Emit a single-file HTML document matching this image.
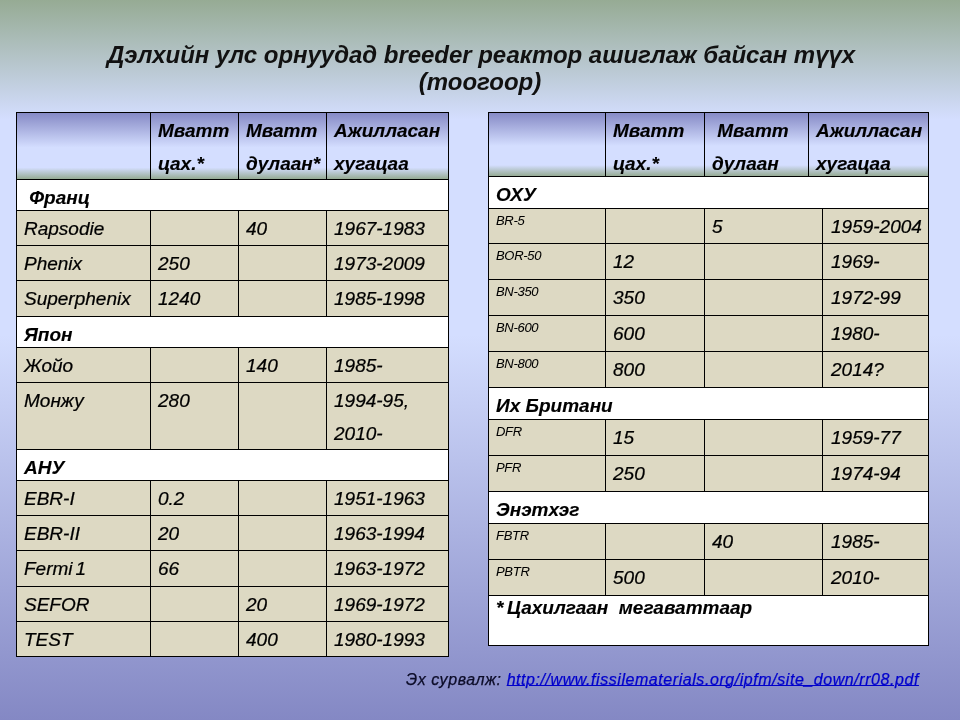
<!DOCTYPE html>
<html lang="mn"><head><meta charset="utf-8"><title>Breeder реактор</title>
<style>
html,body{margin:0;padding:0}
body{width:960px;height:720px;overflow:hidden;position:relative;font-family:"Liberation Sans", sans-serif;color:#000;
background:linear-gradient(to bottom,#96AB94 0%,#D4DEFF 16.6%,#D4DEFF 46.5%,#8488C4 100%);}
div{position:absolute;box-sizing:border-box}
#stage{left:0;top:0;width:960px;height:720px;will-change:transform}
.ln{background:#000}
.t{white-space:nowrap;font-style:italic;-webkit-text-stroke:0.22px #000}
.bi{font-weight:bold;-webkit-text-stroke:0.12px #000}
.title{left:0;width:960px;text-align:center;font-weight:bold;font-style:italic;font-size:24px;line-height:27px;color:#111;top:41.2px;white-space:nowrap}
.src{font-weight:normal;font-style:italic;font-size:16px;line-height:19px;white-space:nowrap;left:406px;top:669.7px;color:#0c0c28;letter-spacing:0.56px;-webkit-text-stroke:0.25px currentColor}
.src a{color:#0000cc;text-decoration:underline;text-decoration-thickness:1px;text-underline-offset:0.3px}
</style></head><body>
<div id="stage">
<div class="title"><span style="letter-spacing:-0.03px;padding-left:2px">Дэлхийн улс орнуудад breeder реактор ашиглаж байсан түүх</span><br>(тоогоор)</div>
<div style="left:16px;top:112px;width:432px;height:67px;background:linear-gradient(to bottom,#8488C4 0%,#D4DEFF 53%,#D4DEFF 83%,#96AB94 100%);"></div>
<div style="left:16px;top:179px;width:432px;height:31px;background:#fff;"></div>
<div style="left:16px;top:210px;width:432px;height:35px;background:#DDD9C3;"></div>
<div style="left:16px;top:245px;width:432px;height:35px;background:#DDD9C3;"></div>
<div style="left:16px;top:280px;width:432px;height:36px;background:#DDD9C3;"></div>
<div style="left:16px;top:316px;width:432px;height:31px;background:#fff;"></div>
<div style="left:16px;top:347px;width:432px;height:35px;background:#DDD9C3;"></div>
<div style="left:16px;top:382px;width:432px;height:67px;background:#DDD9C3;"></div>
<div style="left:16px;top:449px;width:432px;height:31px;background:#fff;"></div>
<div style="left:16px;top:480px;width:432px;height:35px;background:#DDD9C3;"></div>
<div style="left:16px;top:515px;width:432px;height:35px;background:#DDD9C3;"></div>
<div style="left:16px;top:550px;width:432px;height:36px;background:#DDD9C3;"></div>
<div style="left:16px;top:586px;width:432px;height:35px;background:#DDD9C3;"></div>
<div style="left:16px;top:621px;width:432px;height:35px;background:#DDD9C3;"></div>
<div class="ln" style="left:16px;top:112px;width:433px;height:1px"></div>
<div class="ln" style="left:16px;top:179px;width:433px;height:1px"></div>
<div class="ln" style="left:16px;top:210px;width:433px;height:1px"></div>
<div class="ln" style="left:16px;top:245px;width:433px;height:1px"></div>
<div class="ln" style="left:16px;top:280px;width:433px;height:1px"></div>
<div class="ln" style="left:16px;top:316px;width:433px;height:1px"></div>
<div class="ln" style="left:16px;top:347px;width:433px;height:1px"></div>
<div class="ln" style="left:16px;top:382px;width:433px;height:1px"></div>
<div class="ln" style="left:16px;top:449px;width:433px;height:1px"></div>
<div class="ln" style="left:16px;top:480px;width:433px;height:1px"></div>
<div class="ln" style="left:16px;top:515px;width:433px;height:1px"></div>
<div class="ln" style="left:16px;top:550px;width:433px;height:1px"></div>
<div class="ln" style="left:16px;top:586px;width:433px;height:1px"></div>
<div class="ln" style="left:16px;top:621px;width:433px;height:1px"></div>
<div class="ln" style="left:16px;top:656px;width:433px;height:1px"></div>
<div class="ln" style="left:16px;top:112px;width:1px;height:545px"></div>
<div class="ln" style="left:448px;top:112px;width:1px;height:545px"></div>
<div class="ln" style="left:150px;top:112px;width:1px;height:67px"></div>
<div class="ln" style="left:238px;top:112px;width:1px;height:67px"></div>
<div class="ln" style="left:326px;top:112px;width:1px;height:67px"></div>
<div class="ln" style="left:150px;top:210px;width:1px;height:35px"></div>
<div class="ln" style="left:238px;top:210px;width:1px;height:35px"></div>
<div class="ln" style="left:326px;top:210px;width:1px;height:35px"></div>
<div class="ln" style="left:150px;top:245px;width:1px;height:35px"></div>
<div class="ln" style="left:238px;top:245px;width:1px;height:35px"></div>
<div class="ln" style="left:326px;top:245px;width:1px;height:35px"></div>
<div class="ln" style="left:150px;top:280px;width:1px;height:36px"></div>
<div class="ln" style="left:238px;top:280px;width:1px;height:36px"></div>
<div class="ln" style="left:326px;top:280px;width:1px;height:36px"></div>
<div class="ln" style="left:150px;top:347px;width:1px;height:35px"></div>
<div class="ln" style="left:238px;top:347px;width:1px;height:35px"></div>
<div class="ln" style="left:326px;top:347px;width:1px;height:35px"></div>
<div class="ln" style="left:150px;top:382px;width:1px;height:67px"></div>
<div class="ln" style="left:238px;top:382px;width:1px;height:67px"></div>
<div class="ln" style="left:326px;top:382px;width:1px;height:67px"></div>
<div class="ln" style="left:150px;top:480px;width:1px;height:35px"></div>
<div class="ln" style="left:238px;top:480px;width:1px;height:35px"></div>
<div class="ln" style="left:326px;top:480px;width:1px;height:35px"></div>
<div class="ln" style="left:150px;top:515px;width:1px;height:35px"></div>
<div class="ln" style="left:238px;top:515px;width:1px;height:35px"></div>
<div class="ln" style="left:326px;top:515px;width:1px;height:35px"></div>
<div class="ln" style="left:150px;top:550px;width:1px;height:36px"></div>
<div class="ln" style="left:238px;top:550px;width:1px;height:36px"></div>
<div class="ln" style="left:326px;top:550px;width:1px;height:36px"></div>
<div class="ln" style="left:150px;top:586px;width:1px;height:35px"></div>
<div class="ln" style="left:238px;top:586px;width:1px;height:35px"></div>
<div class="ln" style="left:326px;top:586px;width:1px;height:35px"></div>
<div class="ln" style="left:150px;top:621px;width:1px;height:35px"></div>
<div class="ln" style="left:238px;top:621px;width:1px;height:35px"></div>
<div class="ln" style="left:326px;top:621px;width:1px;height:35px"></div>
<div class="t bi" style="left:158px;top:118.92px;font-size:19px;line-height:23px;">Мватт</div>
<div class="t bi" style="left:158px;top:151.92px;font-size:19px;line-height:23px;">цах.*</div>
<div class="t bi" style="left:246px;top:118.92px;font-size:19px;line-height:23px;">Мватт</div>
<div class="t bi" style="left:246px;top:151.92px;font-size:19px;line-height:23px;">дулаан*</div>
<div class="t bi" style="left:334px;top:118.92px;font-size:19px;line-height:23px;">Ажилласан</div>
<div class="t bi" style="left:334px;top:151.92px;font-size:19px;line-height:23px;">хугацаа</div>
<div class="t bi" style="left:24px;top:185.52px;font-size:19px;line-height:23px;">&nbsp;Франц</div>
<div class="t i" style="left:24px;top:216.62px;font-size:19px;line-height:23px;">Rapsodie</div>
<div class="t i" style="left:246px;top:216.62px;font-size:19px;line-height:23px;">40</div>
<div class="t i" style="left:334px;top:216.62px;font-size:19px;line-height:23px;">1967-1983</div>
<div class="t i" style="left:24px;top:251.62px;font-size:19px;line-height:23px;">Phenix</div>
<div class="t i" style="left:158px;top:251.62px;font-size:19px;line-height:23px;">250</div>
<div class="t i" style="left:334px;top:251.62px;font-size:19px;line-height:23px;">1973-2009</div>
<div class="t i" style="left:24px;top:286.62px;font-size:19px;line-height:23px;">Superphenix</div>
<div class="t i" style="left:158px;top:286.62px;font-size:19px;line-height:23px;">1240</div>
<div class="t i" style="left:334px;top:286.62px;font-size:19px;line-height:23px;">1985-1998</div>
<div class="t bi" style="left:24px;top:322.52px;font-size:19px;line-height:23px;">Япон</div>
<div class="t i" style="left:24px;top:353.62px;font-size:19px;line-height:23px;">Жойо</div>
<div class="t i" style="left:246px;top:353.62px;font-size:19px;line-height:23px;">140</div>
<div class="t i" style="left:334px;top:353.62px;font-size:19px;line-height:23px;">1985-</div>
<div class="t i" style="left:24px;top:388.62px;font-size:19px;line-height:23px;">Монжу</div>
<div class="t i" style="left:158px;top:388.62px;font-size:19px;line-height:23px;">280</div>
<div class="t i" style="left:334px;top:388.62px;font-size:19px;line-height:23px;">1994-95,</div>
<div class="t i" style="left:334px;top:422.12px;font-size:19px;line-height:23px;">2010-</div>
<div class="t bi" style="left:24px;top:455.52px;font-size:19px;line-height:23px;">АНУ</div>
<div class="t i" style="left:24px;top:486.62px;font-size:19px;line-height:23px;">EBR-I</div>
<div class="t i" style="left:158px;top:486.62px;font-size:19px;line-height:23px;">0.2</div>
<div class="t i" style="left:334px;top:486.62px;font-size:19px;line-height:23px;">1951-1963</div>
<div class="t i" style="left:24px;top:521.62px;font-size:19px;line-height:23px;">EBR-II</div>
<div class="t i" style="left:158px;top:521.62px;font-size:19px;line-height:23px;">20</div>
<div class="t i" style="left:334px;top:521.62px;font-size:19px;line-height:23px;">1963-1994</div>
<div class="t i" style="left:24px;top:556.62px;font-size:19px;line-height:23px;">Fermi<span style="letter-spacing:-2.3px"> </span>1</div>
<div class="t i" style="left:158px;top:556.62px;font-size:19px;line-height:23px;">66</div>
<div class="t i" style="left:334px;top:556.62px;font-size:19px;line-height:23px;">1963-1972</div>
<div class="t i" style="left:24px;top:592.62px;font-size:19px;line-height:23px;">SEFOR</div>
<div class="t i" style="left:246px;top:592.62px;font-size:19px;line-height:23px;">20</div>
<div class="t i" style="left:334px;top:592.62px;font-size:19px;line-height:23px;">1969-1972</div>
<div class="t i" style="left:24px;top:627.62px;font-size:19px;line-height:23px;">TEST</div>
<div class="t i" style="left:246px;top:627.62px;font-size:19px;line-height:23px;">400</div>
<div class="t i" style="left:334px;top:627.62px;font-size:19px;line-height:23px;">1980-1993</div>
<div style="left:488px;top:112px;width:440px;height:64px;background:linear-gradient(to bottom,#8488C4 0%,#D4DEFF 53%,#D4DEFF 83%,#96AB94 100%);"></div>
<div style="left:488px;top:176px;width:440px;height:32px;background:#fff;"></div>
<div style="left:488px;top:208px;width:440px;height:35px;background:#DDD9C3;"></div>
<div style="left:488px;top:243px;width:440px;height:36px;background:#DDD9C3;"></div>
<div style="left:488px;top:279px;width:440px;height:36px;background:#DDD9C3;"></div>
<div style="left:488px;top:315px;width:440px;height:36px;background:#DDD9C3;"></div>
<div style="left:488px;top:351px;width:440px;height:36px;background:#DDD9C3;"></div>
<div style="left:488px;top:387px;width:440px;height:32px;background:#fff;"></div>
<div style="left:488px;top:419px;width:440px;height:36px;background:#DDD9C3;"></div>
<div style="left:488px;top:455px;width:440px;height:36px;background:#DDD9C3;"></div>
<div style="left:488px;top:491px;width:440px;height:32px;background:#fff;"></div>
<div style="left:488px;top:523px;width:440px;height:36px;background:#DDD9C3;"></div>
<div style="left:488px;top:559px;width:440px;height:36px;background:#DDD9C3;"></div>
<div style="left:488px;top:595px;width:440px;height:50px;background:#fff;"></div>
<div class="ln" style="left:488px;top:112px;width:441px;height:1px"></div>
<div class="ln" style="left:488px;top:176px;width:441px;height:1px"></div>
<div class="ln" style="left:488px;top:208px;width:441px;height:1px"></div>
<div class="ln" style="left:488px;top:243px;width:441px;height:1px"></div>
<div class="ln" style="left:488px;top:279px;width:441px;height:1px"></div>
<div class="ln" style="left:488px;top:315px;width:441px;height:1px"></div>
<div class="ln" style="left:488px;top:351px;width:441px;height:1px"></div>
<div class="ln" style="left:488px;top:387px;width:441px;height:1px"></div>
<div class="ln" style="left:488px;top:419px;width:441px;height:1px"></div>
<div class="ln" style="left:488px;top:455px;width:441px;height:1px"></div>
<div class="ln" style="left:488px;top:491px;width:441px;height:1px"></div>
<div class="ln" style="left:488px;top:523px;width:441px;height:1px"></div>
<div class="ln" style="left:488px;top:559px;width:441px;height:1px"></div>
<div class="ln" style="left:488px;top:595px;width:441px;height:1px"></div>
<div class="ln" style="left:488px;top:645px;width:441px;height:1px"></div>
<div class="ln" style="left:488px;top:112px;width:1px;height:534px"></div>
<div class="ln" style="left:928px;top:112px;width:1px;height:534px"></div>
<div class="ln" style="left:605px;top:112px;width:1px;height:64px"></div>
<div class="ln" style="left:704px;top:112px;width:1px;height:64px"></div>
<div class="ln" style="left:808px;top:112px;width:1px;height:64px"></div>
<div class="ln" style="left:605px;top:208px;width:1px;height:35px"></div>
<div class="ln" style="left:704px;top:208px;width:1px;height:35px"></div>
<div class="ln" style="left:822px;top:208px;width:1px;height:35px"></div>
<div class="ln" style="left:605px;top:243px;width:1px;height:36px"></div>
<div class="ln" style="left:704px;top:243px;width:1px;height:36px"></div>
<div class="ln" style="left:822px;top:243px;width:1px;height:36px"></div>
<div class="ln" style="left:605px;top:279px;width:1px;height:36px"></div>
<div class="ln" style="left:704px;top:279px;width:1px;height:36px"></div>
<div class="ln" style="left:822px;top:279px;width:1px;height:36px"></div>
<div class="ln" style="left:605px;top:315px;width:1px;height:36px"></div>
<div class="ln" style="left:704px;top:315px;width:1px;height:36px"></div>
<div class="ln" style="left:822px;top:315px;width:1px;height:36px"></div>
<div class="ln" style="left:605px;top:351px;width:1px;height:36px"></div>
<div class="ln" style="left:704px;top:351px;width:1px;height:36px"></div>
<div class="ln" style="left:822px;top:351px;width:1px;height:36px"></div>
<div class="ln" style="left:605px;top:419px;width:1px;height:36px"></div>
<div class="ln" style="left:704px;top:419px;width:1px;height:36px"></div>
<div class="ln" style="left:822px;top:419px;width:1px;height:36px"></div>
<div class="ln" style="left:605px;top:455px;width:1px;height:36px"></div>
<div class="ln" style="left:704px;top:455px;width:1px;height:36px"></div>
<div class="ln" style="left:822px;top:455px;width:1px;height:36px"></div>
<div class="ln" style="left:605px;top:523px;width:1px;height:36px"></div>
<div class="ln" style="left:704px;top:523px;width:1px;height:36px"></div>
<div class="ln" style="left:822px;top:523px;width:1px;height:36px"></div>
<div class="ln" style="left:605px;top:559px;width:1px;height:36px"></div>
<div class="ln" style="left:704px;top:559px;width:1px;height:36px"></div>
<div class="ln" style="left:822px;top:559px;width:1px;height:36px"></div>
<div class="t bi" style="left:613px;top:118.92px;font-size:19px;line-height:23px;">Мватт</div>
<div class="t bi" style="left:613px;top:151.92px;font-size:19px;line-height:23px;">цах.*</div>
<div class="t bi" style="left:712px;top:118.92px;font-size:19px;line-height:23px;">&nbsp;Мватт</div>
<div class="t bi" style="left:712px;top:151.92px;font-size:19px;line-height:23px;">дулаан</div>
<div class="t bi" style="left:816px;top:118.92px;font-size:19px;line-height:23px;">Ажилласан</div>
<div class="t bi" style="left:816px;top:151.92px;font-size:19px;line-height:23px;">хугацаа</div>
<div class="t bi" style="left:496px;top:182.52px;font-size:19px;line-height:23px;">ОХУ</div>
<div class="t i" style="left:496px;top:213.40px;font-size:13px;line-height:16px;letter-spacing:-0.3px;-webkit-text-stroke:0.05px #000;">BR-5</div>
<div class="t i" style="left:712px;top:214.62px;font-size:19px;line-height:23px;">5</div>
<div class="t i" style="left:831px;top:214.62px;font-size:19px;line-height:23px;">1959-2004</div>
<div class="t i" style="left:496px;top:248.40px;font-size:13px;line-height:16px;letter-spacing:-0.3px;-webkit-text-stroke:0.05px #000;">BOR-50</div>
<div class="t i" style="left:613px;top:249.62px;font-size:19px;line-height:23px;">12</div>
<div class="t i" style="left:831px;top:249.62px;font-size:19px;line-height:23px;">1969-</div>
<div class="t i" style="left:496px;top:284.40px;font-size:13px;line-height:16px;letter-spacing:-0.3px;-webkit-text-stroke:0.05px #000;">BN-350</div>
<div class="t i" style="left:613px;top:285.62px;font-size:19px;line-height:23px;">350</div>
<div class="t i" style="left:831px;top:285.62px;font-size:19px;line-height:23px;">1972-99</div>
<div class="t i" style="left:496px;top:320.40px;font-size:13px;line-height:16px;letter-spacing:-0.3px;-webkit-text-stroke:0.05px #000;">BN-600</div>
<div class="t i" style="left:613px;top:321.62px;font-size:19px;line-height:23px;">600</div>
<div class="t i" style="left:831px;top:321.62px;font-size:19px;line-height:23px;">1980-</div>
<div class="t i" style="left:496px;top:356.40px;font-size:13px;line-height:16px;letter-spacing:-0.3px;-webkit-text-stroke:0.05px #000;">BN-800</div>
<div class="t i" style="left:613px;top:357.62px;font-size:19px;line-height:23px;">800</div>
<div class="t i" style="left:831px;top:357.62px;font-size:19px;line-height:23px;">2014?</div>
<div class="t bi" style="left:496px;top:393.52px;font-size:19px;line-height:23px;">Их Британи</div>
<div class="t i" style="left:496px;top:424.40px;font-size:13px;line-height:16px;letter-spacing:-0.3px;-webkit-text-stroke:0.05px #000;">DFR</div>
<div class="t i" style="left:613px;top:425.62px;font-size:19px;line-height:23px;">15</div>
<div class="t i" style="left:831px;top:425.62px;font-size:19px;line-height:23px;">1959-77</div>
<div class="t i" style="left:496px;top:460.40px;font-size:13px;line-height:16px;letter-spacing:-0.3px;-webkit-text-stroke:0.05px #000;">PFR</div>
<div class="t i" style="left:613px;top:461.62px;font-size:19px;line-height:23px;">250</div>
<div class="t i" style="left:831px;top:461.62px;font-size:19px;line-height:23px;">1974-94</div>
<div class="t bi" style="left:496px;top:497.52px;font-size:19px;line-height:23px;">Энэтхэг</div>
<div class="t i" style="left:496px;top:528.40px;font-size:13px;line-height:16px;letter-spacing:-0.3px;-webkit-text-stroke:0.05px #000;">FBTR</div>
<div class="t i" style="left:712px;top:529.62px;font-size:19px;line-height:23px;">40</div>
<div class="t i" style="left:831px;top:529.62px;font-size:19px;line-height:23px;">1985-</div>
<div class="t i" style="left:496px;top:564.40px;font-size:13px;line-height:16px;letter-spacing:-0.3px;-webkit-text-stroke:0.05px #000;">PBTR</div>
<div class="t i" style="left:613px;top:565.62px;font-size:19px;line-height:23px;">500</div>
<div class="t i" style="left:831px;top:565.62px;font-size:19px;line-height:23px;">2010-</div>
<div class="t bi" style="left:496px;top:596.32px;font-size:19px;line-height:23px;"><span style="letter-spacing:-0.9px">* </span>Цахилгаан&nbsp; мегаваттаар</div>
<div class="src">Эх сурвалж: <a>http://www.fissilematerials.org/ipfm/site_down/rr08.pdf</a></div>
</div>
</body></html>
